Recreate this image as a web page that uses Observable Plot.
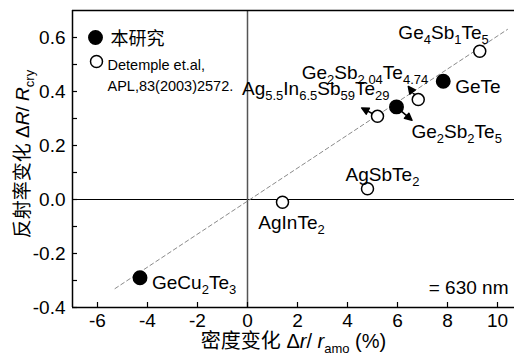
<!DOCTYPE html>
<html>
<head>
<meta charset="utf-8">
<script src="https://cdn.jsdelivr.net/npm/d3@7"></script>
<script src="https://cdn.jsdelivr.net/npm/@observablehq/plot@0.6"></script>
<style>
  html, body { margin: 0; padding: 0; background: white; }
  svg text { font-family: "Liberation Sans", Arial, "Noto Sans CJK SC", sans-serif; }
</style>
</head>
<body>
<div id="chart"></div>
<script>
// ---- data ----
const names = ["GeCu_{2}Te_{3}", "AgInTe_{2}", "AgSbTe_{2}", "Ag_{5.5}In_{6.5}Sb_{59}Te_{29}",
               "Ge_{2}Sb_{2}Te_{5}", "Ge_{2}Sb_{2.04}Te_{4.74}", "GeTe", "Ge_{4}Sb_{1}Te_{5}"];
const densityChange = [-4.3, 1.4, 4.8, 5.2, 5.96, 6.83, 7.83, 9.29];      // Δr/r_amo (%)
const reflectChange = [-0.29, -0.01, 0.04, 0.308, 0.343, 0.37, 0.438, 0.549]; // ΔR/R_cry
const source = ["this", "detemple", "detemple", "detemple", "this", "detemple", "this", "detemple"];

// label placement relative to each point: [dx, dy, textAnchor]
const labelPlacement = [[12, 5, "start"], [9, 21, "middle"], [15, -14, "middle"], [12, -27, "end"],
                        [15, 25, "start"], [10, -27, "end"], [12, 6, "start"], [9, -18, "end"]];

// arrows from points to labels: point index, direction (deg clockwise from up), length (px)
const arrowPoint = [3, 5, 4];
const arrowAngle = [-62, -37, 131];
const arrowLength = [18, 16.5, 20.5];

// dashed trend line end points
const fitX = [-5.3, 10.4];
const fitY = [-0.33, 0.63];

const xDomain = [-7, 10.68];
const yDomain = [-0.4, 0.7];
const xTicks = [-6, -4, -2, 0, 2, 4, 6, 8, 10];
const yTicks = [-0.4, -0.3, -0.2, -0.1, 0, 0.1, 0.2, 0.3, 0.4, 0.5, 0.6];

const legendLabels = ["本研究", "Detemple et.al,", "APL,83(2003)2572."];
const xLabel = "密度变化 Δ*r*/ *r*_{amo} (%)";
const yLabel = "反射率变化 Δ*R*/ *R*_{cry}";
const noteText = "= 630 nm";

// ---- build ----
const points = names.map((n, i) => ({name: n, x: densityChange[i], y: reflectChange[i], src: source[i]}));
const fitLine = fitX.map((x, i) => ({x, y: fitY[i]}));

const arrowShape = {
  draw(ctx, l) {
    const s = 6, h = 7, w = 3.4;
    ctx.moveTo(0, -s); ctx.lineTo(0, -(l - h + 1));
    ctx.moveTo(0, -l); ctx.lineTo(-w, -(l - h)); ctx.lineTo(w, -(l - h)); ctx.closePath();
  }
};

const arrowMarks = arrowPoint.map((p, i) => Plot.vector([points[p]], {
  x: "x", y: "y", rotate: arrowAngle[i], length: arrowLength[i], anchor: "start",
  shape: arrowShape, stroke: "black", fill: "black", strokeWidth: 1.5
}));

const labelMarks = points.map((p, i) => Plot.text([p], {
  x: "x", y: "y", text: "name",
  dx: labelPlacement[i][0], dy: labelPlacement[i][1], textAnchor: labelPlacement[i][2],
  lineAnchor: "middle", fontSize: 19, fill: "black"
}));

const plot = Plot.plot({
  width: 514, height: 355,
  marginLeft: 72, marginRight: 0, marginTop: 10, marginBottom: 48,
  x: {domain: xDomain},
  y: {domain: yDomain},
  style: {fontFamily: '"Liberation Sans", Arial, "Noto Sans CJK SC", sans-serif', fontSize: "19px", background: "white", color: "black"},
  marks: [
    Plot.ruleY([0], {stroke: "black", strokeWidth: 1.2}),
    Plot.ruleX([0], {stroke: "#555", strokeWidth: 1.5}),
    Plot.line(fitLine, {x: "x", y: "y", stroke: "#8a8a8a", strokeWidth: 1, strokeDasharray: "4,3"}),
    Plot.axisX({ticks: xTicks, tickSize: -5, tickPadding: 11, tickFormat: d => String(d), label: null, strokeWidth: 1.2}),
    Plot.axisY({ticks: yTicks, tickSize: -5, tickPadding: 12, label: null, strokeWidth: 1.2,
      tickFormat: d => (Math.round(d * 10) % 2 === 0 ? d.toFixed(1) : "")}),
    Plot.ruleX([xDomain[0]], {stroke: "black", strokeWidth: 1.5}),
    Plot.ruleY([yDomain[0]], {stroke: "black", strokeWidth: 1.5}),
    Plot.ruleY([yDomain[1]], {stroke: "black", strokeWidth: 1.5}),
    ...arrowMarks,
    Plot.dot(points.filter(d => d.src === "this"), {x: "x", y: "y", r: 6.7, fill: "black", stroke: "black"}),
    Plot.dot(points.filter(d => d.src !== "this"), {x: "x", y: "y", r: 6, fill: "white", stroke: "black", strokeWidth: 1.5}),
    ...labelMarks,
    // legend
    Plot.dot([0], {frameAnchor: "top-left", dx: 23, dy: 27, r: 6.7, fill: "black", stroke: "black"}),
    Plot.dot([0], {frameAnchor: "top-left", dx: 24, dy: 51, r: 6, fill: "white", stroke: "black", strokeWidth: 1.5}),
    Plot.text([legendLabels[0]], {frameAnchor: "top-left", dx: 38, dy: 29, textAnchor: "start", lineAnchor: "middle", fontSize: 18}),
    Plot.text([legendLabels[1]], {frameAnchor: "top-left", dx: 35, dy: 55, textAnchor: "start", lineAnchor: "middle", fontSize: 14.5}),
    Plot.text([legendLabels[2]], {frameAnchor: "top-left", dx: 35, dy: 76, textAnchor: "start", lineAnchor: "middle", fontSize: 14.5}),
    // note
    Plot.text([noteText], {frameAnchor: "bottom-right", dx: -6, dy: -20, textAnchor: "end", lineAnchor: "middle", fontSize: 19}),
    // axis titles
    Plot.text([xLabel], {frameAnchor: "bottom", dy: 34, textAnchor: "middle", lineAnchor: "middle", fontSize: 20}),
    Plot.text([yLabel], {frameAnchor: "left", dx: -50, dy: -5, rotate: -90, textAnchor: "middle", lineAnchor: "middle", fontSize: 19})
  ]
});

// rich-text markup: _{sub} and *italic*
const NS = "http://www.w3.org/2000/svg";
plot.querySelectorAll("text").forEach(text => {
  const s = text.textContent;
  if (!/_\{|\*/.test(s)) return;
  const parts = s.split(/(_\{[^}]*\}|\*[^*]+\*)/).filter(p => p);
  while (text.firstChild) text.removeChild(text.firstChild);
  let shifted = false;
  for (const p of parts) {
    const t = document.createElementNS(NS, "tspan");
    if (p.startsWith("_{")) {
      t.textContent = p.slice(2, -1);
      t.setAttribute("font-size", "13px");
      t.setAttribute("dy", "5");
      shifted = true;
    } else {
      const ital = p.startsWith("*");
      t.textContent = ital ? p.slice(1, -1) : p;
      if (ital) t.setAttribute("font-style", "italic");
      if (shifted) { t.setAttribute("dy", "-5"); shifted = false; }
    }
    text.appendChild(t);
  }
});

document.getElementById("chart").appendChild(plot);
</script>
</body>
</html>
